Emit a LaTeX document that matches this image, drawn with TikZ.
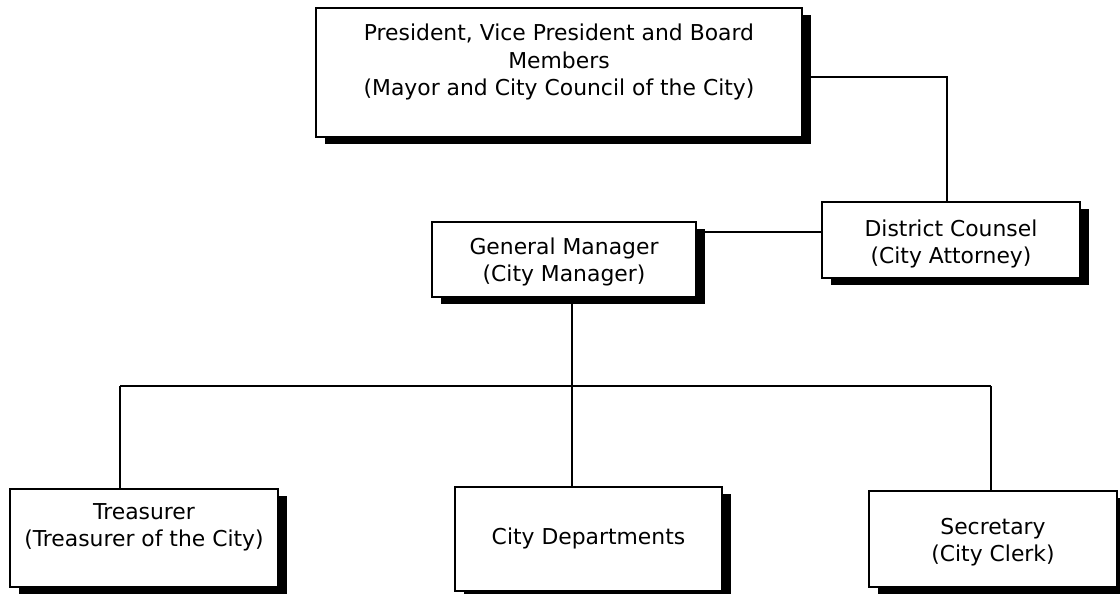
\documentclass[tikz,border=0pt]{standalone}
\usepackage{fontspec}
\setmainfont{DejaVu Sans}
\usetikzlibrary{shadows}
\begin{document}
\begin{tikzpicture}[x=0.75pt,y=-0.75pt,
  box/.style={draw=black, line width=1.1pt, fill=white, inner sep=0pt,
    drop shadow={shadow xshift=6.5pt, shadow yshift=-5.5pt, fill=black, opacity=1}},
  txt/.style={align=center, font=\fontsize{16.4}{20.5}\selectfont, inner sep=0pt},
  link/.style={line width=1pt},
  busline/.style={line width=1.5pt}]
\useasboundingbox (0,0) rectangle (1120,593);

% boxes
\node[box, minimum width=364.5pt, minimum height=96.75pt] (top) at (559,72.5) {};
\node[box, minimum width=193.5pt, minimum height=57pt] (dc) at (951,240) {};
\node[box, minimum width=198pt, minimum height=56.25pt] (gm) at (564,259.5) {};
\node[box, minimum width=201pt, minimum height=73.5pt] (tr) at (144,538) {};
\node[box, minimum width=200.25pt, minimum height=78pt] (cd) at (588.5,539) {};
\node[box, minimum width=186pt, minimum height=72pt] (sec) at (993,539) {};

% texts
\node[txt] (topt) at (559,62) {President, Vice President and Board\\Members\\(Mayor and City Council of the City)};
\node[txt] (dct) at (951,244) {District Counsel\\(City Attorney)};
\node[txt] (gmt) at (564,262) {General Manager\\(City Manager)};
\node[txt] (trt) at (144,527) {Treasurer\\(Treasurer of the City)};
\node[txt] (cdt) at (588.5,538) {City Departments};
\node[txt] (sect) at (993,542) {Secretary\\(City Clerk)};

% connectors
\coordinate (c1) at (947,77);
\draw[link] (top.east |- c1) -- (c1) -- (dc.north -| c1);
\coordinate (g) at (700,232);
\draw[link] (gm.east |- g) -- (dc.west |- g);
\coordinate (busc) at (572,386);
\coordinate (busl) at (120,386);
\coordinate (busr) at (991,386);
\draw[link] (gm.south -| busc) -- (busc) -- (cd.north -| busc);
\draw[busline] (busl) -- (busr);
\draw[link] (busl) -- (tr.north -| busl);
\draw[link] (busr) -- (sec.north -| busr);
\end{tikzpicture}
\end{document}
